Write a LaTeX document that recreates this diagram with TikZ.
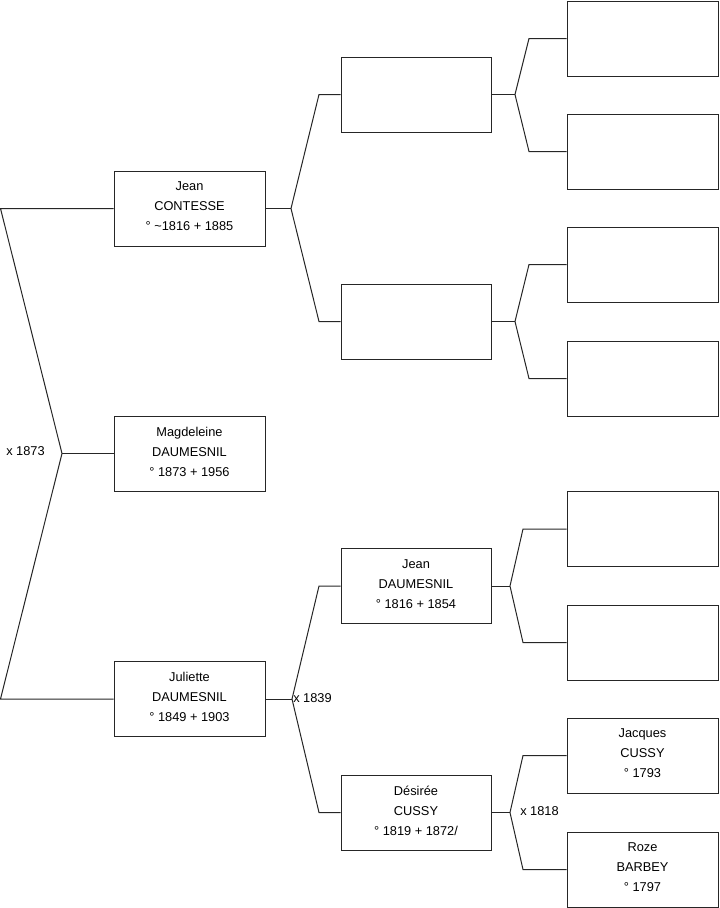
\documentclass[tikz,border=0pt]{standalone}
\usepackage{fontspec}
\setmainfont{Liberation Sans}
\begin{document}
\begin{tikzpicture}[x=0.75pt,y=-0.75pt,
  person/.style={draw=black!85,line width=0.75pt,fill=white,rectangle,inner sep=0pt,
    minimum height=75*0.75pt},
  who/.style={align=center,inner sep=0pt,yshift=1.5pt,font=\fontsize{9.6}{15}\selectfont},
  c1/.style={person,minimum width=151*0.75pt},
  c2/.style={person,minimum width=150*0.75pt},
  c3/.style={person,minimum width=151*0.75pt},
  link/.style={draw=black!85,line width=0.75pt},
  lab/.style={anchor=west,inner sep=0pt,font=\fontsize{9.6}{11}\selectfont}]
\useasboundingbox (0,0) rectangle (719,908);
% column 1
\node[c1,label={[who]center:{Jean\\CONTESSE\\° \textasciitilde1816 + 1885}}] (p1) at (189.5,208.5) {};
\node[c1,label={[who]center:{Magdeleine\\DAUMESNIL\\° 1873 + 1956}}] (p2) at (189.5,453.5) {};
\node[c1,label={[who]center:{Juliette\\DAUMESNIL\\° 1849 + 1903}}] (p3) at (189.5,699) {};
% column 2
\node[c2] (q1) at (416,94.5) {};
\node[c2] (q2) at (416,321.5) {};
\node[c2,label={[who]center:{Jean\\DAUMESNIL\\° 1816 + 1854}}] (q3) at (416,586) {};
\node[c2,label={[who]center:{Désirée\\CUSSY\\° 1819 + 1872/}}] (q4) at (416,812.5) {};
% column 3
\node[c3] (r1) at (642.5,38.5) {};
\node[c3] (r2) at (642.5,151.5) {};
\node[c3] (r3) at (642.5,264.5) {};
\node[c3] (r4) at (642.5,378.5) {};
\node[c3] (r5) at (642.5,529) {};
\node[c3] (r6) at (642.5,642.5) {};
\node[c3,label={[who]center:{Jacques\\CUSSY\\° 1793}}] (r7) at (642.5,755.5) {};
\node[c3,label={[who]center:{Roze\\BARBEY\\° 1797}}] (r8) at (642.5,869.5) {};
% left fork
\coordinate (L1) at (0.5,208.5);
\coordinate (L2) at (0.5,699);
\coordinate (J0) at (62,453.5);
\draw[link] (p1.west) -- (L1) -- (J0) -- (L2) -- (p3.west);
\draw[link] (J0) -- (p2.west);
\node[lab] (m0) at (6,451) {x 1873};
% p1 fork
\coordinate (J1) at (291,208.5);
\coordinate (E1a) at (319,94.5);
\coordinate (E1b) at (319,321.5);
\draw[link] (p1.east) -- (J1);
\draw[link] (q1.west) -- (E1a) -- (J1) -- (E1b) -- (q2.west);
% p3 fork
\coordinate (J3) at (292,699);
\coordinate (E3a) at (319,586);
\coordinate (E3b) at (319,812.5);
\draw[link] (p3.east) -- (J3);
\draw[link] (q3.west) -- (E3a) -- (J3) -- (E3b) -- (q4.west);
\node[lab] (m3) at (293,698) {x 1839};
% q1 fork
\coordinate (K1) at (515,94.5);
\coordinate (F1a) at (529,38.5);
\coordinate (F1b) at (529,151.5);
\draw[link] (q1.east) -- (K1);
\draw[link] (r1.west) -- (F1a) -- (K1) -- (F1b) -- (r2.west);
% q2 fork
\coordinate (K2) at (515,321.5);
\coordinate (F2a) at (529,264.5);
\coordinate (F2b) at (529,378.5);
\draw[link] (q2.east) -- (K2);
\draw[link] (r3.west) -- (F2a) -- (K2) -- (F2b) -- (r4.west);
% q3 fork
\coordinate (K3) at (510,586);
\coordinate (F3a) at (523,529);
\coordinate (F3b) at (523,642.5);
\draw[link] (q3.east) -- (K3);
\draw[link] (r5.west) -- (F3a) -- (K3) -- (F3b) -- (r6.west);
% q4 fork
\coordinate (K4) at (510,812.5);
\coordinate (F4a) at (523,755.5);
\coordinate (F4b) at (523,869.5);
\draw[link] (q4.east) -- (K4);
\draw[link] (r7.west) -- (F4a) -- (K4) -- (F4b) -- (r8.west);
\node[lab] (m4) at (520,811) {x 1818};
\end{tikzpicture}
\end{document}
